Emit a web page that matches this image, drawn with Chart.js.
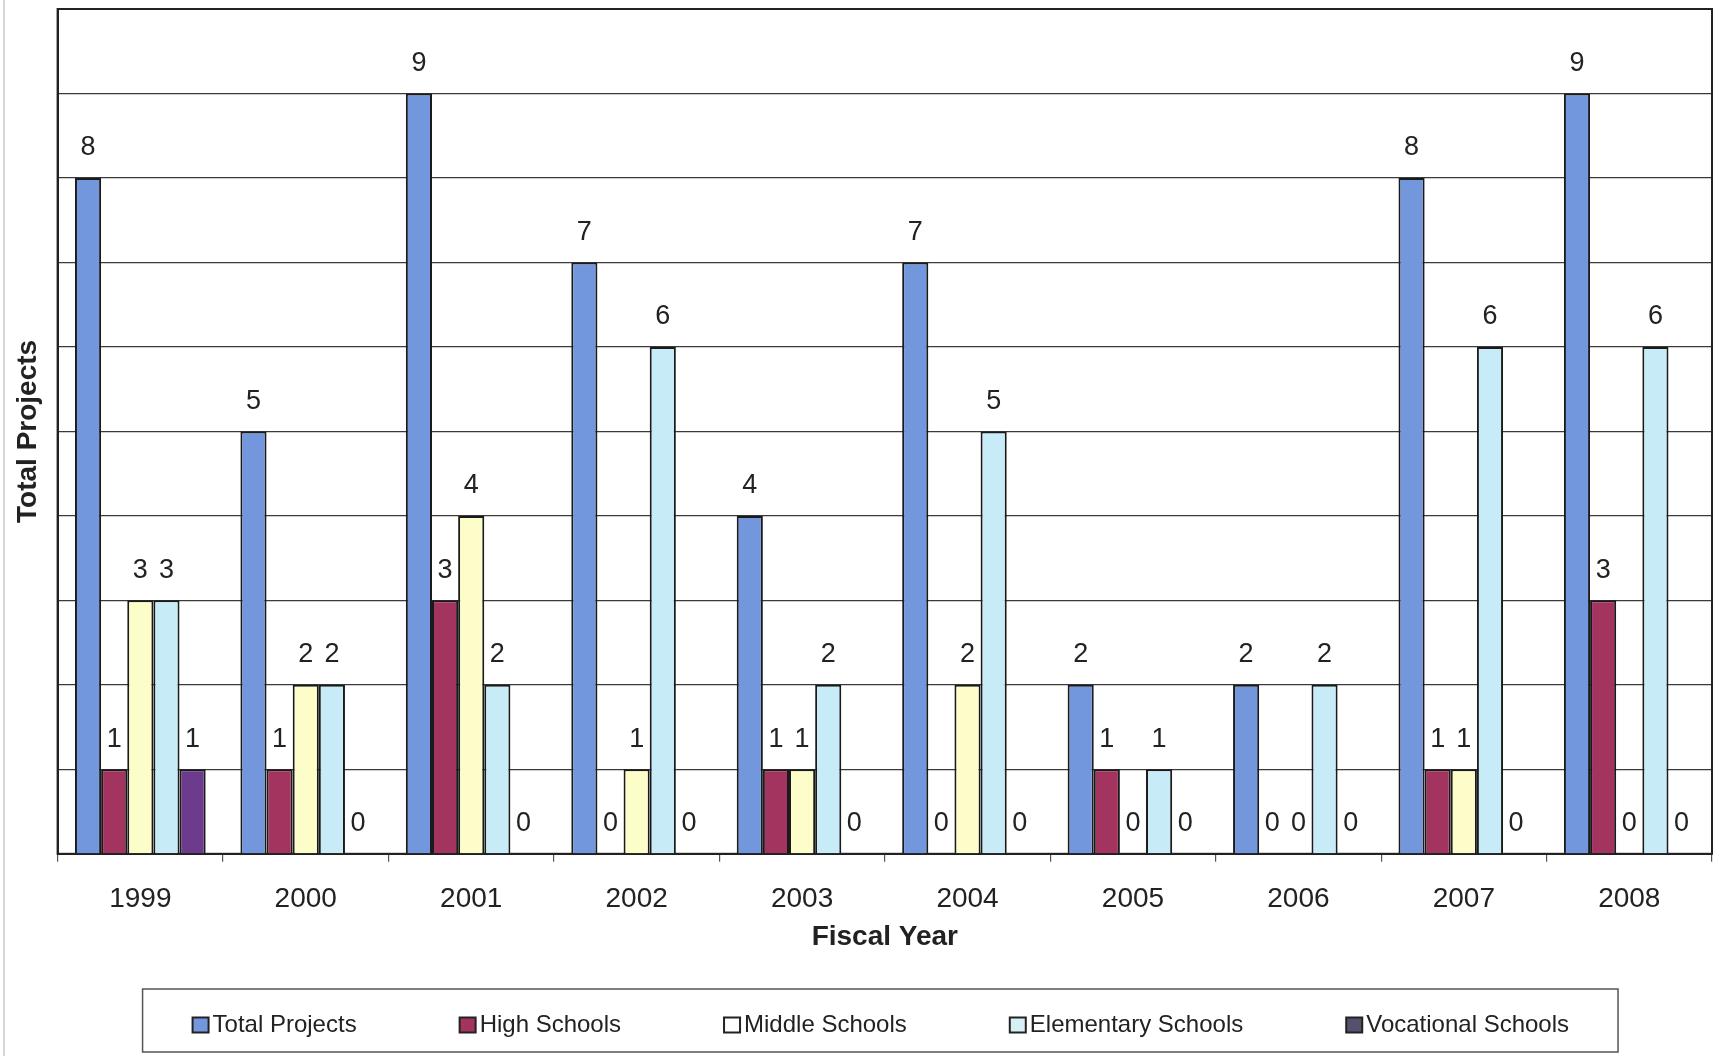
<!DOCTYPE html>
<html>
<head>
<meta charset="utf-8">
<script src="https://cdn.jsdelivr.net/npm/chart.js@4.4.0/dist/chart.umd.min.js"></script>
<style>
  html, body { margin: 0; padding: 0; background: #fff; }
  canvas { display: block; }
</style>
</head>
<body>
<canvas id="projectsChart" width="1720" height="1056"></canvas>
<script>
const ctx = document.getElementById('projectsChart');

const fiscalYears = ['1999', '2000', '2001', '2002', '2003', '2004', '2005', '2006', '2007', '2008'];
const totalProjects = [8, 5, 9, 7, 4, 7, 2, 2, 8, 9];
const highSchools = [1, 1, 3, 0, 1, 0, 1, 0, 1, 3];
const middleSchools = [3, 2, 4, 1, 1, 2, 0, 0, 1, 0];
const elementarySchools = [3, 2, 2, 6, 2, 5, 1, 2, 6, 6];
const vocationalSchools = [1, 0, 0, 0, 0, 0, 0, 0, 0, 0];

const seriesNames = ['Total Projects', 'High Schools', 'Middle Schools', 'Elementary Schools', 'Vocational Schools'];
const seriesValues = [totalProjects, highSchools, middleSchools, elementarySchools, vocationalSchools];
const seriesColors = ['#7297dc', '#a3345f', '#fdfdca', '#c8ecf7', '#6c3b8b'];
const legendColors = ['#7297dc', '#a3345f', '#ffffff', '#d6f0f6', '#55506e'];

const FONT = '"Liberation Sans", Arial, sans-serif';

// numbers above every bar, zeros included
const valueLabels = {
    id: 'valueLabels',
    afterDatasetsDraw(chart) {
        const c = chart.ctx;
        c.save();
        c.font = '27px ' + FONT;
        c.fillStyle = '#222';
        c.textAlign = 'center';
        c.textBaseline = 'middle';
        chart.data.datasets.forEach((ds, i) => {
            chart.getDatasetMeta(i).data.forEach((bar, j) => {
                c.fillText(String(ds.data[j]), bar.x, bar.y - 30);
            });
        });
        c.restore();
    }
};

// plot frame + faint outer line on the left
const frame = {
    id: 'frame',
    beforeDatasetsDraw(chart) {
        const a = chart.chartArea;
        const c = chart.ctx;
        c.save();
        c.strokeStyle = '#222';
        c.lineWidth = 2;
        c.strokeRect(a.left, a.top, a.right - a.left, a.bottom - a.top);
        c.strokeStyle = '#c8c8c8';
        c.lineWidth = 1.5;
        c.beginPath();
        c.moveTo(4, 0);
        c.lineTo(4, chart.height);
        c.stroke();
        c.restore();
    }
};

// boxed legend below the axis title
const boxLegend = {
    id: 'boxLegend',
    afterDraw(chart) {
        const c = chart.ctx;
        const a = chart.chartArea;
        c.save();
        c.font = '24px ' + FONT;
        const mw = 16, mh = 15, gap = 4, itemGap = 103;
        const widths = seriesNames.map(n => mw + gap + c.measureText(n).width);
        const total = widths.reduce((s, w) => s + w, 0) + itemGap * (widths.length - 1);
        let x = (a.left + a.right) / 2 - total / 2 - 4;
        const y = 1025;

        c.strokeStyle = '#555';
        c.lineWidth = 1.5;
        c.strokeRect(x - 50, 989, total + 99, 63);

        c.textBaseline = 'middle';
        c.textAlign = 'left';
        seriesNames.forEach((name, i) => {
            c.fillStyle = legendColors[i];
            c.fillRect(x, y - mh / 2, mw, mh);
            c.strokeStyle = '#222';
            c.lineWidth = 2;
            c.strokeRect(x, y - mh / 2, mw, mh);
            c.fillStyle = '#222';
            c.fillText(name, x + mw + gap, y);
            x += widths[i] + itemGap;
        });
        c.restore();
    }
};

new Chart(ctx, {
    type: 'bar',
    data: {
        labels: fiscalYears,
        datasets: seriesNames.map((name, i) => ({
            label: name,
            data: seriesValues[i],
            backgroundColor: seriesColors[i],
            borderColor: '#1a1a1a',
            borderWidth: 2,
            borderSkipped: 'start',
            categoryPercentage: 0.79,
            barPercentage: 1.0
        }))
    },
    options: {
        responsive: false,
        animation: false,
        devicePixelRatio: 1,
        layout: {
            padding: { left: 0, right: 8, top: 9, bottom: 102 }
        },
        plugins: {
            legend: { display: false },
            tooltip: { enabled: false }
        },
        scales: {
            x: {
                grid: {
                    drawOnChartArea: false,
                    drawTicks: true,
                    tickLength: 8,
                    color: '#555',
                    lineWidth: 1.2
                },
                border: { color: '#222', width: 2 },
                ticks: {
                    font: { family: FONT, size: 28 },
                    color: '#222',
                    padding: 21,
                    maxRotation: 0
                },
                title: {
                    display: true,
                    text: 'Fiscal Year',
                    font: { family: FONT, size: 28, weight: 'bold' },
                    color: '#222',
                    padding: { top: -17, bottom: 0 }
                }
            },
            y: {
                min: 0,
                max: 10,
                ticks: { display: false, stepSize: 1 },
                grid: {
                    drawTicks: false,
                    color: '#3a3a3a',
                    lineWidth: 1.3
                },
                border: { color: '#222', width: 2 },
                title: {
                    display: true,
                    text: 'Total Projects',
                    font: { family: FONT, size: 28, weight: 'bold' },
                    color: '#222',
                    padding: { top: 11, bottom: 13 }
                }
            }
        }
    },
    plugins: [frame, valueLabels, boxLegend]
});
</script>
</body>
</html>
